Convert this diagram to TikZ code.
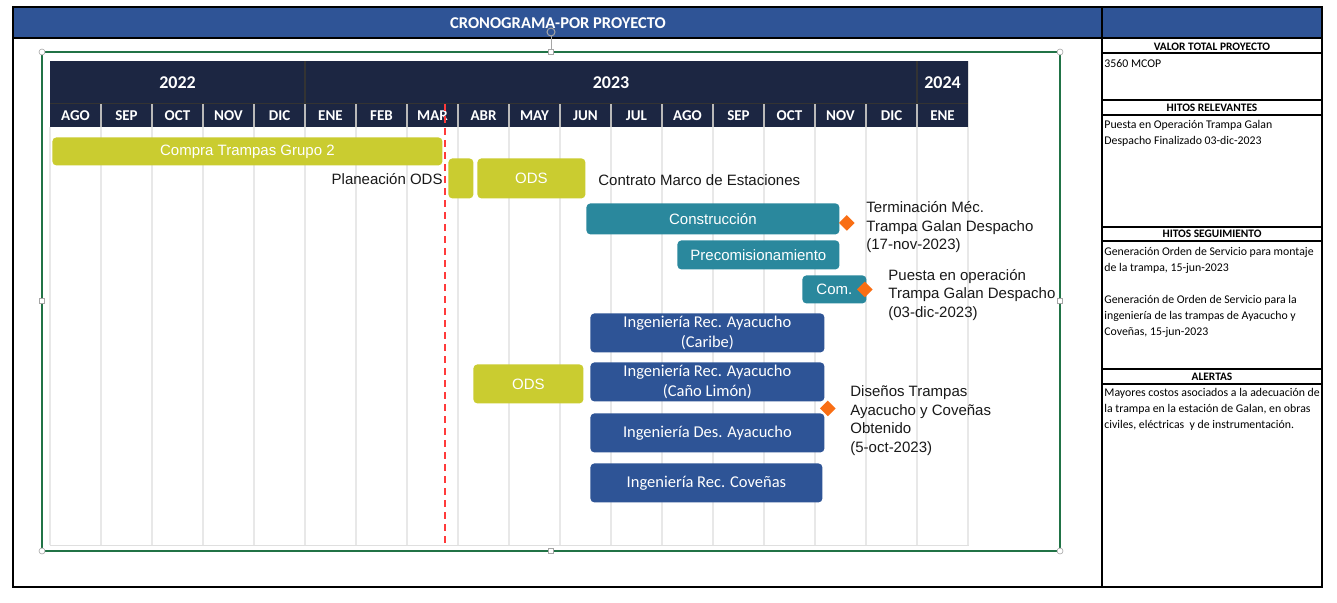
\documentclass[tikz,border=0pt]{standalone}
\usepackage{fontspec}
\setmainfont{Carlito}
\newfontfamily\arialfont{Liberation Sans}
\usepackage{tikz}
\usetikzlibrary{positioning,calc,shapes.geometric}
\usepackage{xcolor}

\definecolor{hdrblue}{HTML}{2F5496}
\definecolor{navy}{HTML}{1C2642}
\definecolor{olivebar}{HTML}{CACC30}
\definecolor{tealbar}{HTML}{2A889D}
\definecolor{bluebar}{HTML}{2E5496}
\definecolor{mileorange}{HTML}{F96E14}
\definecolor{selgreen}{HTML}{217346}
\definecolor{gridgray}{HTML}{E8E8E8}
\definecolor{todayred}{HTML}{FF3B3B}

\begin{document}
\begin{tikzpicture}[
  x=1pt, y=-1pt, line width=0.8pt,
  frame/.style={draw=black, line width=1.2pt},
  bar/.style={rounded corners=4pt, anchor=north west, inner sep=0pt,
              text=white, align=center},
  greenbar/.style={bar, fill=olivebar, font=\arialfont\fontsize{15}{18}\selectfont},
  tealbox/.style={bar, fill=tealbar, font=\arialfont\fontsize{15}{18}\selectfont},
  engbar/.style={bar, fill=bluebar, font=\fontsize{16.5}{20}\selectfont},
  mile/.style={diamond, fill=mileorange, inner sep=0pt, minimum size=16pt},
  lbl/.style={font=\arialfont\fontsize{15}{18.5}\selectfont, text=black!90,
              align=left, inner sep=0pt},
  month/.style={font=\bfseries\fontsize{15}{15}\selectfont, text=white, inner sep=0pt},
  year/.style={font=\bfseries\fontsize{18}{18}\selectfont, text=white, inner sep=0pt},
  cellhead/.style={font=\bfseries\fontsize{11.4}{14}\selectfont, inner sep=0pt},
  celltext/.style={font=\fontsize{11.8}{16}\selectfont, align=left,
                   anchor=base west, inner sep=0pt},
  gridline/.style={draw=gridgray, line width=2pt},
  handle/.style={circle, draw=gray!70, fill=white, line width=0.6pt,
                 minimum size=6pt, inner sep=0pt},
  sqhandle/.style={rectangle, draw=gray!70, fill=white, line width=0.6pt,
                   minimum size=5pt, inner sep=0pt}
]
  \useasboundingbox (0,0) rectangle (1337,602);

  % Sheet frame and title band
  \fill[hdrblue] (13,7) rectangle (1322,38);
  \draw[frame] (13,7) rectangle (1322,587);
  \draw[frame] (13,38) -- (1322,38);
  \draw[frame] (1102,7) -- (1102,587);
  \node[font=\bfseries\fontsize{16.5}{16.5}\selectfont, text=white, inner sep=0pt]
       (title) at (558,23) {CRONOGRAMA-POR PROYECTO};

  % Side panel (multi-line texts sit on their last baseline)
  \foreach \yl in {53,100,115,227,241,369,384}{
    \draw[frame] (1102,\yl) -- (1322,\yl);
  }
  \node[cellhead] (hvalor)   at (1212,46.5)  {VALOR TOTAL PROYECTO};
  \node[cellhead] (hhitos)   at (1212,107.5) {HITOS RELEVANTES};
  \node[cellhead] (hseg)     at (1212,234)   {HITOS SEGUIMIENTO};
  \node[cellhead] (halertas) at (1212,376.5) {ALERTAS};
  \node[celltext] (tvalor) at (1104,67) {3560 MCOP};
  \node[celltext] (thitos) at (1104,144)
       {Puesta en Operación Trampa Galan\\Despacho Finalizado 03-dic-2023};
  \node[celltext] (tseg) at (1104,335)
       {Generación Orden de Servicio para montaje\\de la trampa, 15-jun-2023\\[15.5pt]
        Generación de Orden de Servicio para la\\ingeniería de las trampas de Ayacucho y\\
        Coveñas, 15-jun-2023};
  \node[celltext] (talertas) at (1104,428)
       {Mayores costos asociados a la adecuación de\\la trampa en la estación de Galan, en obras\\
        civiles, eléctricas~ y de instrumentación.};

  % Selection frame round the pasted chart
  \draw[selgreen, line width=1.1pt] (42,52) rectangle (1060,551);
  \draw[gray!70, line width=0.6pt] (551,36) -- (551,52);
  \draw[gray!70, line width=1pt] (551,32) circle (4);
  \node[handle] (hnw) at (42,52) {};
  \node[handle] (hne) at (1060,52) {};
  \node[handle] (hsw) at (42,551) {};
  \node[handle] (hse) at (1060,551) {};
  \node[sqhandle] (hn) at (551,52) {};
  \node[sqhandle] (hs) at (551,551) {};
  \node[sqhandle] (hw) at (42,301) {};
  \node[sqhandle] (he) at (1060,301) {};

  % Chart body and month grid
  \draw[gray!25, fill=white] (50,61) rectangle (968,545);
  \foreach \i in {0,...,18}{
    \pgfmathsetmacro{\xg}{50+51*\i}
    \draw[gridline] (\xg,127) -- (\xg,545);
  }
  \fill[navy] (50,61) rectangle (968,127);
  \draw[black!80, line width=1pt] (50,103) -- (968,103);
  \draw[black!80, line width=1.2pt] (305,61) -- (305,103);
  \draw[black!80, line width=1.2pt] (917,61) -- (917,103);
  \foreach \i in {1,...,17}{
    \pgfmathsetmacro{\xs}{50+51*\i}
    \draw[gray!55, line width=1.2pt] (\xs,104) -- (\xs,127);
  }
  \node[year] (y22) at (177.5,83) {2022};
  \node[year] (y23) at (611,83)   {2023};
  \node[year] (y24) at (942.5,83) {2024};
  \foreach \m [count=\i from 0] in {AGO,SEP,OCT,NOV,DIC,ENE,FEB,MAR,ABR,MAY,
                                    JUN,JUL,AGO,SEP,OCT,NOV,DIC,ENE}{
    \pgfmathsetmacro{\xm}{75.5+51*\i}
    \node[month] (m\i) at (\xm,115.5) {\m};
  }

  % Cut-off date
  \coordinate (todaytop) at (445,104);
  \coordinate (todaybot) at (445,545);
  \draw[todayred, line width=2pt, dash pattern=on 7pt off 5pt] (todaytop) -- (todaybot);

  % Bars
  \node[greenbar, minimum width=390pt, minimum height=28pt] (compra) at (52,137)
       {Compra Trampas Grupo 2};
  \node[greenbar, minimum width=25pt, minimum height=40pt] (planods) at (448,158) {};
  \node[greenbar, minimum width=108pt, minimum height=40pt] (ods) at (477,158) {ODS};
  \node[tealbox, minimum width=253pt, minimum height=31pt] (constr) at (586,203)
       {Construcción};
  \node[tealbox, minimum width=162pt, minimum height=29pt] (precom) at (677,240)
       {Precomisionamiento};
  \node[tealbox, minimum width=64pt, minimum height=28pt] (com) at (802,275) {Com.};
  \node[engbar, minimum width=234pt, minimum height=39pt] (caribe) at (590,313)
       {Ingeniería Rec. Ayacucho\\(Caribe)};
  \node[greenbar, minimum width=110pt, minimum height=39pt] (odsing) at (473,364) {ODS};
  \node[engbar, minimum width=234pt, minimum height=39pt] (cano) at (590,362)
       {Ingeniería Rec. Ayacucho\\(Caño Limón)};
  \node[engbar, minimum width=234pt, minimum height=39pt] (desay) at (590,413)
       {Ingeniería Des. Ayacucho};
  \node[engbar, minimum width=232pt, minimum height=39pt] (recov) at (590,463)
       {Ingeniería Rec. Coveñas};

  % Milestones
  \node[mile] (mconstr) at ([xshift=7pt, yshift=-4pt]constr.east) {};
  \node[mile] (mcom) at ([xshift=-2pt]com.east) {};
  \node[mile] (mdis) at ($(cano.south east)!0.5!(desay.north east)+(3,1)$) {};

  % Labels (multi-line ones sit on their last baseline)
  \node[lbl, anchor=base east] (lplan) at (443,184.5) {Planeación ODS};
  \node[lbl, anchor=base west] (lcontrato) at (598,185.5) {Contrato Marco de Estaciones};
  \node[lbl, anchor=base west] (lterm) at (866,249.5)
       {Terminación Méc.\\Trampa Galan Despacho\\(17-nov-2023)};
  \node[lbl, anchor=base west] (lpuesta) at (888,317)
       {Puesta en operación\\Trampa Galan Despacho\\(03-dic-2023)};
  \node[lbl, anchor=base west] (ldis) at (850,452)
       {Diseños Trampas\\Ayacucho y Coveñas\\Obtenido\\(5-oct-2023)};
\end{tikzpicture}
\end{document}
